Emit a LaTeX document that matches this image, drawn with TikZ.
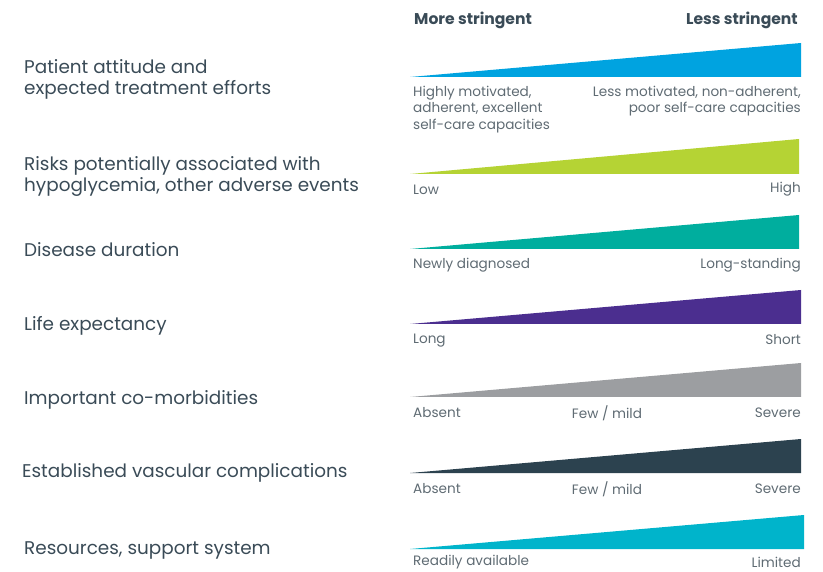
\documentclass[tikz,border=0pt]{standalone}
\usepackage{fontspec}
\setmainfont{Poppins}
\usepackage{xcolor}
\usetikzlibrary{positioning}

\definecolor{txtdark}{HTML}{3A4B57}
\definecolor{txtgray}{HTML}{5F6B73}
\definecolor{wblue}{HTML}{00A3E0}
\definecolor{wgreen}{HTML}{B5D334}
\definecolor{wteal}{HTML}{00AE9E}
\definecolor{wpurple}{HTML}{4B2E8F}
\definecolor{wgray}{HTML}{9C9EA1}
\definecolor{wslate}{HTML}{2C424F}
\definecolor{wcyan}{HTML}{00B4CB}

\tikzset{
	factor/.style={anchor=west,inner sep=0pt,text=txtdark,align=left,
		font=\fontsize{18.4}{21}\selectfont},
	endlbl/.style={inner sep=0pt,text=txtgray,
		font=\fontsize{13.6}{16.5}\selectfont},
	head/.style={inner sep=0pt,text=txtdark,font=\fontsize{15.6}{17}\selectfont\bfseries},
	wedge/.style={draw=none}
}

\begin{document}
\begin{tikzpicture}[x=1pt,y=-1pt]
		\useasboundingbox (0,0) rectangle (823,572);
		%
		% headings
		\node[head,anchor=west] (more) at (414,20) {More stringent};
		\node[head,anchor=east] (less) at (798,20) {Less stringent};
		%
		% factors
		\node[factor] (attitude) at (24,79) {Patient attitude and\\expected treatment efforts};
		\node[factor] (risks) at (24,176) {Risks potentially associated with\\hypoglycemia, other adverse events};
		\node[factor] (duration) at (24,250) {Disease duration};
		\node[factor] (life) at (24,326) {Life expectancy};
		\node[factor] (comorb) at (24,400) {Important co-morbidities};
		\node[factor] (vascular) at (22,473) {Established vascular complications};
		\node[factor] (resources) at (24,550) {Resources, support system};
		%
		% wedges
		\fill[wedge,wblue] (410,77) -- (801,43) -- (801,77) -- cycle;
		\fill[wedge,wgreen] (410,174) -- (799,139) -- (799,174) -- cycle;
		\fill[wedge,wteal] (410,249) -- (799,215) -- (799,249) -- cycle;
		\fill[wedge,wpurple] (410,324) -- (801,290) -- (801,324) -- cycle;
		\fill[wedge,wgray] (410,397) -- (801,363) -- (801,397) -- cycle;
		\fill[wedge,wslate] (410,473) -- (801,439) -- (801,473) -- cycle;
		\fill[wedge,wcyan] (410,549) -- (804,515) -- (804,549) -- cycle;
		%
		% end labels
		\node[endlbl,anchor=west,align=left] (att-l) at (413,109.5) {Highly motivated,\\adherent, excellent\\self-care capacities};
		\node[endlbl,anchor=east,align=right] (att-r) at (801,101) {Less motivated, non-adherent,\\poor self-care capacities};
		\node[endlbl,anchor=west] (risk-l) at (413,189.5) {Low};
		\node[endlbl,anchor=east] (risk-r) at (801,189) {High};
		\node[endlbl,anchor=west] (dur-l) at (413,265) {Newly diagnosed};
		\node[endlbl,anchor=east] (dur-r) at (801,265) {Long-standing};
		\node[endlbl,anchor=west] (life-l) at (413,340.5) {Long};
		\node[endlbl,anchor=east] (life-r) at (801,340) {Short};
		\node[endlbl,anchor=west] (com-l) at (413,413) {Absent};
		\node[endlbl] (com-m) at (607,413) {Few / mild};
		\node[endlbl,anchor=east] (com-r) at (801,413) {Severe};
		\node[endlbl,anchor=west] (vas-l) at (413,489) {Absent};
		\node[endlbl] (vas-m) at (607,489) {Few / mild};
		\node[endlbl,anchor=east] (vas-r) at (801,489) {Severe};
		\node[endlbl,anchor=west] (res-l) at (413,562.5) {Readily available};
		\node[endlbl,anchor=east] (res-r) at (801,562.5) {Limited};
\end{tikzpicture}
\end{document}
